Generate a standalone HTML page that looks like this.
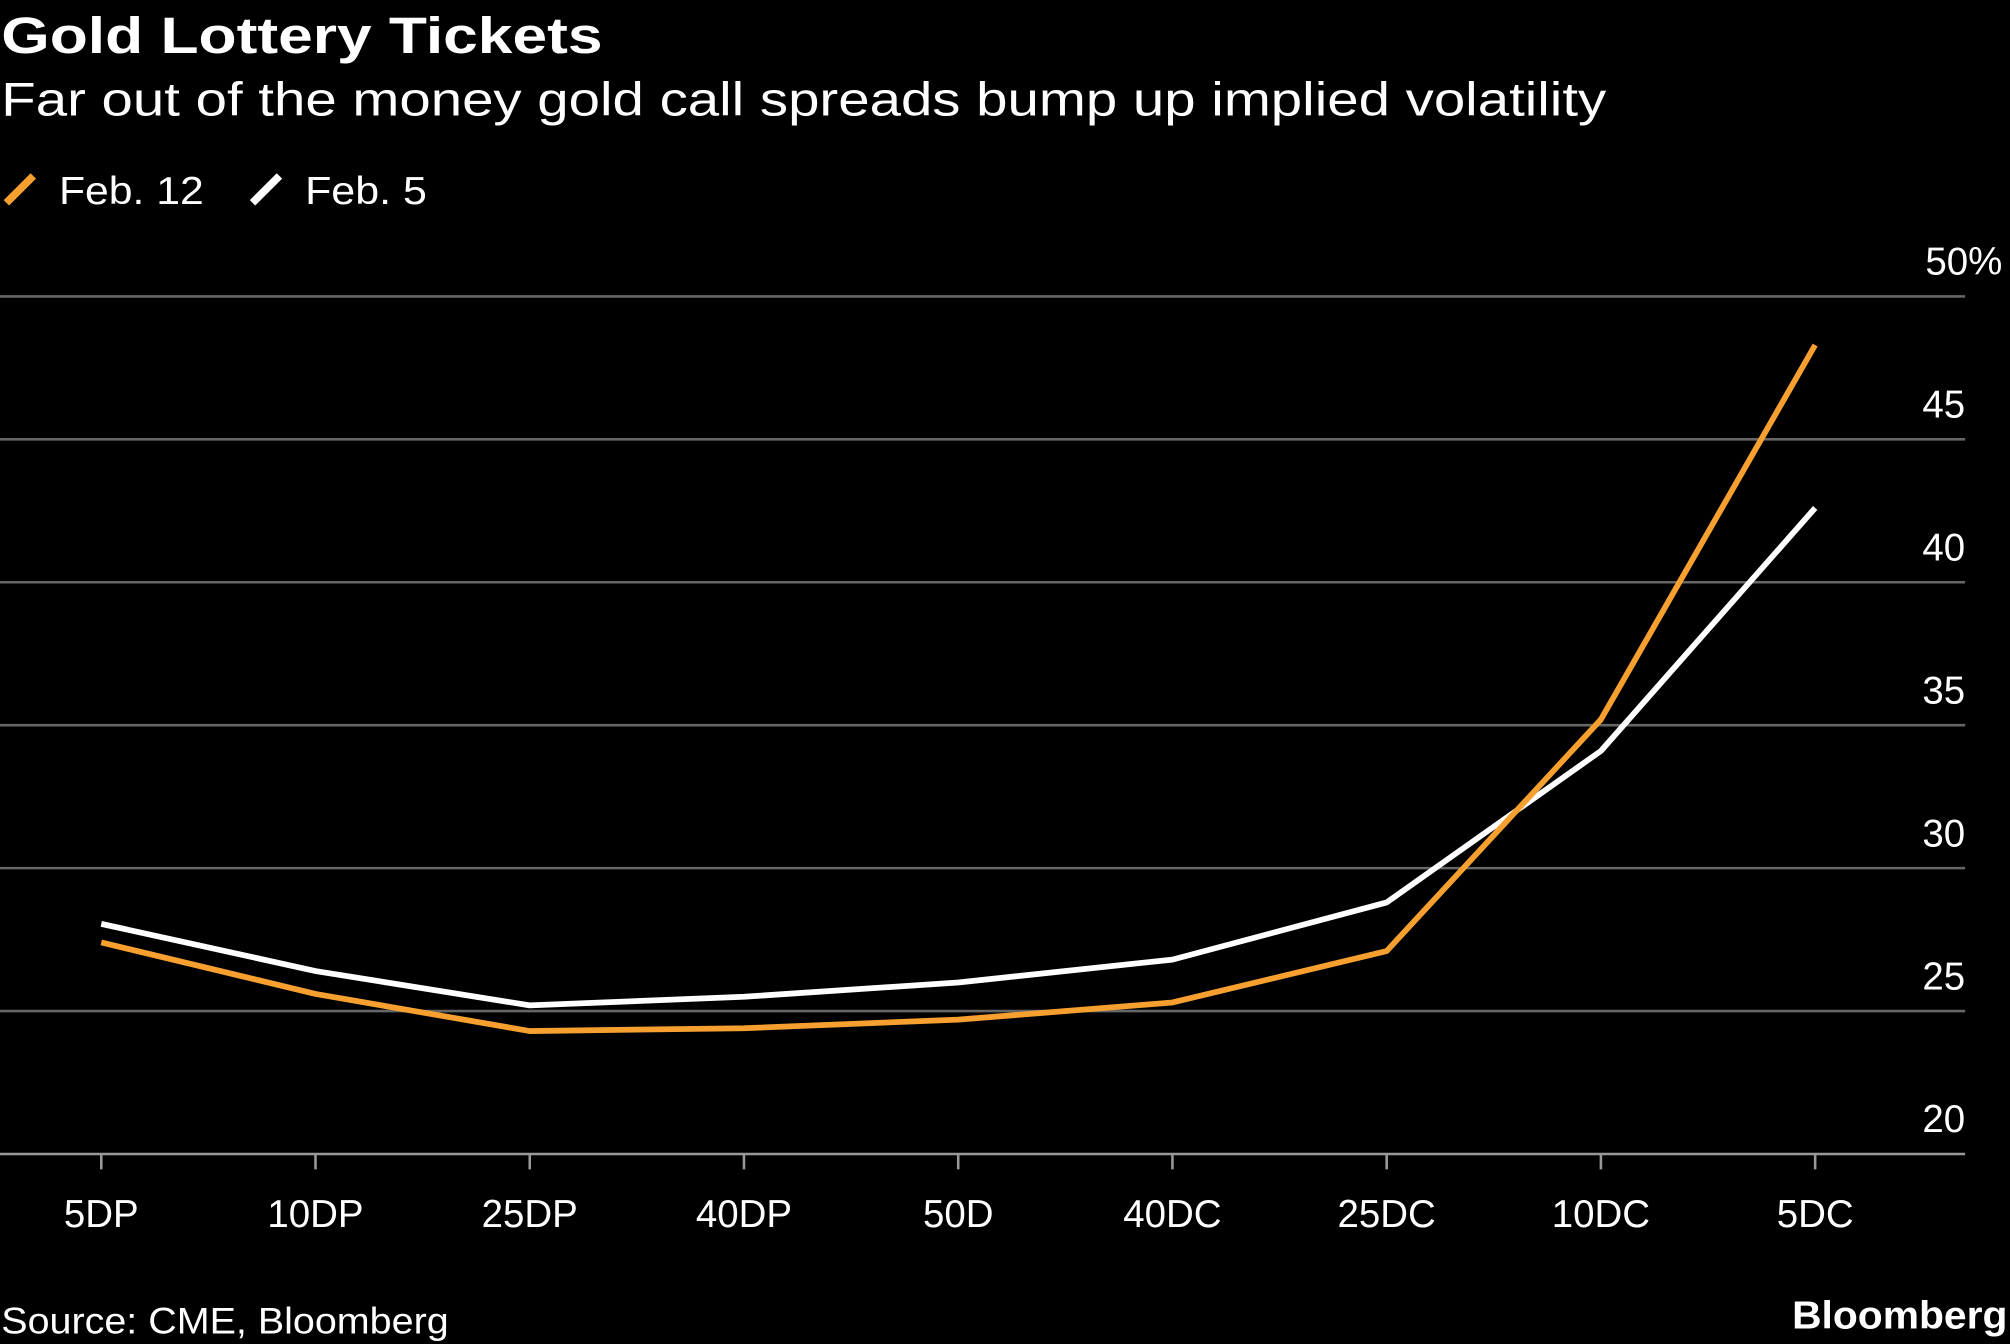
<!DOCTYPE html>
<html><head><meta charset="utf-8"><style>
html,body{margin:0;padding:0;background:#000;}
svg{display:block;}
text{font-family:"Liberation Sans",sans-serif;fill:#fff;}
</style></head><body>
<svg id="chart" width="2010" height="1344" viewBox="0 0 1568 1048" xmlns="http://www.w3.org/2000/svg">
<rect width="1568" height="1048" fill="#000"/>
<text x="1" y="41" font-size="40" font-weight="bold" textLength="469" lengthAdjust="spacingAndGlyphs">Gold Lottery Tickets</text>
<text x="1" y="90" font-size="37" textLength="1252" lengthAdjust="spacingAndGlyphs">Far out of the money gold call spreads bump up implied volatility</text>
<g>
<line x1="5" y1="158" x2="26" y2="137" stroke="#f7a030" stroke-width="6"/>
<text x="46" y="159" font-size="30" textLength="113" lengthAdjust="spacingAndGlyphs">Feb. 12</text>
<line x1="197" y1="158" x2="218" y2="137" stroke="#fff" stroke-width="6"/>
<text x="238" y="159" font-size="30" textLength="95" lengthAdjust="spacingAndGlyphs">Feb. 5</text>
</g>
<g id="grid"></g><g id="xaxis"></g><g id="lines"></g>
<text x="1" y="1040" font-size="29" textLength="349" lengthAdjust="spacingAndGlyphs">Source: CME, Bloomberg</text>
<text x="1398" y="1036" font-size="30" font-weight="bold" textLength="168" lengthAdjust="spacingAndGlyphs">Bloomberg</text>
</svg>
<script>
const categories=["5DP","10DP","25DP","40DP","50D","40DC","25DC","10DC","5DC"];
const feb12=[27.4,25.6,24.3,24.4,24.7,25.3,27.1,35.2,48.3];
const feb5=[28.05,26.4,25.2,25.5,26.0,26.8,28.8,34.1,42.6];
const yTicks=[20,25,30,35,40,45,50];
const yTickLabels=["20","25","30","35","40","45","50%"];
const NS="http://www.w3.org/2000/svg";
function y(v){return 900-(v-20)*(669/30);}
function x(i){return 79+i*(1337/8);}
function mk(t,a,p){const e=document.createElementNS(NS,t);for(const k in a)e.setAttribute(k,a[k]);p.appendChild(e);return e;}
const grid=document.getElementById('grid');
yTicks.forEach((v,i)=>{
 const l=mk('line',{x1:0,x2:1533,y1:y(v),y2:y(v),stroke:v===20?'#999':'#666','stroke-width':2},grid);
 
 
 const t=mk('text',{x:1533,y:y(v)-17,'font-size':30,'text-anchor':'end'},grid);
 if(v===50){t.setAttribute('x',1562);}
 t.textContent=yTickLabels[i];
 
 
});
const xa=document.getElementById('xaxis');
categories.forEach((c,i)=>{
 const l=mk('line',{x1:x(i),x2:x(i),y1:900,y2:912,stroke:'#999','stroke-width':2},xa);
 
 
 const t=mk('text',{x:x(i),y:957,'font-size':30,'text-anchor':'middle'},xa);
 t.textContent=c;
 
 
});
const lg=document.getElementById('lines');
function line(d,col,name){
 const p=mk('polyline',{points:d.map((v,i)=>x(i)+','+y(v)).join(' '),fill:'none',stroke:col,'stroke-width':4.5,'stroke-linejoin':'round'},lg);
 
 
}
line(feb5,'#ffffff','line-feb5');
line(feb12,'#f7a030','line-feb12');
</script>
</body></html>
